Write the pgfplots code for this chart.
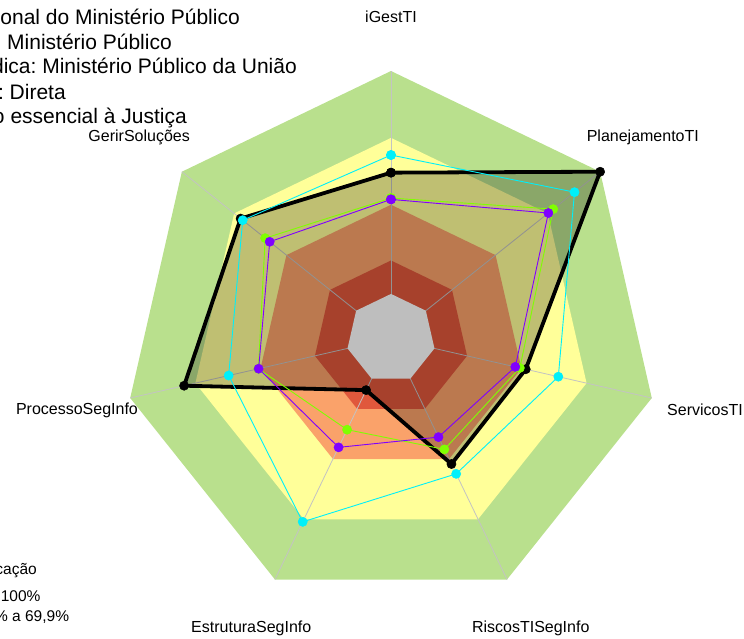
\documentclass[border=0pt]{standalone}
\usepackage{pgfplots}
\pgfplotsset{compat=1.18}
\usepackage{pgfplotstable}
\usepgfplotslibrary{polar}
\usetikzlibrary{calc}
\usepackage{fontspec}
\setmainfont{Liberation Sans}
\frenchspacing

\definecolor{bandgreen}{RGB}{185,224,141}
\definecolor{bandyellow}{RGB}{255,255,153}
\definecolor{bandorange}{RGB}{250,162,106}
\definecolor{bandred}{RGB}{224,88,60}
\definecolor{bandgray}{RGB}{190,190,190}
\definecolor{gridgray}{RGB}{195,195,195}
\definecolor{scyan}{RGB}{0,240,250}
\definecolor{spurple}{RGB}{128,0,255}
\definecolor{sgreen}{RGB}{128,255,0}

% faixas: 0, 15%, 40%, 70%, 100%
\pgfplotstableread{
ang      lA   lB   lC   lD    lE
90       1.0  0.7  0.4  0.15  0.0
38.571   1.0  0.7  0.4  0.15  0.0
-12.857  1.0  0.7  0.4  0.15  0.0
-64.286  1.0  0.7  0.4  0.15  0.0
-115.714 1.0  0.7  0.4  0.15  0.0
-167.143 1.0  0.7  0.4  0.15  0.0
-218.571 1.0  0.7  0.4  0.15  0.0
90       1.0  0.7  0.4  0.15  0.0
}\bands

% iGestTI, PlanejamentoTI, ServicosTI, RiscosTISegInfo,
% EstruturaSegInfo, ProcessoSegInfo, GerirSolucoes (+ fecho)
\pgfplotstableread{
ang      s1     s2     s3     s4
90       0.544  0.623  0.424  0.430
38.571   1.000  0.853  0.703  0.731
-12.857  0.420  0.570  0.372  0.393
-64.286  0.425  0.474  0.291  0.352
-115.714 0.057  0.713  0.342  0.254
-167.143 0.752  0.547  0.409  0.410
-218.571 0.663  0.651  0.496  0.522
90       0.544  0.623  0.424  0.430
}\series

\tikzset{
    lbl/.style={font=\fontsize{16}{19}\selectfont, text=black},
    ttl/.style={font=\fontsize{21}{25}\selectfont, anchor=base east, inner sep=0pt},
    leg/.style={font=\fontsize{15.5}{18}\selectfont, anchor=base east, inner sep=0pt},
    spoke/.style={draw=gridgray, line width=0.8pt},
    thinser/.style={line width=0.9pt, line join=round, mark=*, mark size=4.6pt}
}

\begin{document}
\begin{tikzpicture}
\begin{polaraxis}[
    scale only axis, width=535pt, height=535pt,
    at={(0,0)}, anchor=center,
    xmin=0, xmax=360, ymin=0, ymax=1.2,
    hide axis, clip=false,
    xtick=\empty, ytick=\empty
]
\coordinate (C) at (axis cs:0,0);
% faixas de fundo
\addplot[fill=bandgreen, draw=none] table[x=ang, y expr=\thisrow{lA}+0.2] {\bands};
\addplot[fill=bandyellow, draw=none] table[x=ang, y expr=\thisrow{lB}+0.2] {\bands};
\addplot[fill=bandorange, draw=none] table[x=ang, y expr=\thisrow{lC}+0.2] {\bands};
\addplot[fill=bandred, draw=none] table[x=ang, y expr=\thisrow{lD}+0.2] {\bands};
% eixos radiais
\addplot[spoke] coordinates {(90,0) (90,1.2)};
\addplot[spoke] coordinates {(38.571,0) (38.571,1.2)};
\addplot[spoke] coordinates {(-12.857,0) (-12.857,1.2)};
\addplot[spoke] coordinates {(-64.286,0) (-64.286,1.2)};
\addplot[spoke] coordinates {(-115.714,0) (-115.714,1.2)};
\addplot[spoke] coordinates {(-167.143,0) (-167.143,1.2)};
\addplot[spoke] coordinates {(-218.571,0) (-218.571,1.2)};
% area do orgao
\addplot[fill=black, fill opacity=0.25, draw=none] table[x=ang, y expr=\thisrow{s1}+0.2] {\series};
\addplot[fill=bandgray, draw=none] table[x=ang, y expr=\thisrow{lE}+0.2] {\bands};
% series
\addplot[draw=black, line width=3.8pt, line join=round, mark=*, mark size=4.6pt,
    mark options={fill=black, draw=black, line width=0.5pt}]
    table[x=ang, y expr=\thisrow{s1}+0.2] {\series};
\addplot[thinser, color=sgreen, mark options={fill=sgreen, draw=sgreen, line width=0.5pt}]
    table[x=ang, y expr=\thisrow{s4}+0.2] {\series};
\addplot[thinser, color=scyan, mark options={fill=scyan, draw=scyan, line width=0.5pt}]
    table[x=ang, y expr=\thisrow{s2}+0.2] {\series};
\addplot[thinser, color=spurple, mark options={fill=spurple, draw=spurple, line width=0.5pt}]
    table[x=ang, y expr=\thisrow{s3}+0.2] {\series};
% rotulos
\node[lbl] at (axis cs:90,1.445) {iGestTI};
\node[lbl] at (axis cs:38.571,1.445) {PlanejamentoTI};
\node[lbl] at (axis cs:-12.857,1.445) {ServicosTI};
\node[lbl] at (axis cs:-64.286,1.445) {RiscosTISegInfo};
\node[lbl] at (axis cs:-115.714,1.445) {EstruturaSegInfo};
\node[lbl] at (axis cs:-167.143,1.445) {ProcessoSegInfo};
\node[lbl] at (axis cs:-218.571,1.445) {GerirSoluções};
\end{polaraxis}

% titulo (cortado a esquerda como no original)
\node[ttl] at ($(C)+(-151pt,313.5pt)$) {Organização: Conselho Nacional do Ministério Público};
\node[ttl] at ($(C)+(-219pt,289pt)$) {Segmento: Ministério Público};
\node[ttl] at ($(C)+(-94pt,264.5pt)$) {Natureza jurídica: Ministério Público da União};
\node[ttl] at ($(C)+(-325pt,239pt)$) {Administração: Direta};
\node[ttl] at ($(C)+(-204pt,214.5pt)$) {Poder: Função essencial à Justiça};
% legenda
\node[leg] at ($(C)+(-354pt,-236pt)$) {Faixa de classificação};
\node[leg] at ($(C)+(-350.3pt,-263.2pt)$) {Aprimorado: 70\% a 100\%};
\node[leg] at ($(C)+(-321.7pt,-283.2pt)$) {Intermediário: 40\% a 69,9\%};

\pgfresetboundingbox
\path[use as bounding box] ($(C)+(-391pt,-300.5pt)$) rectangle ($(C)+(353pt,338.5pt)$);
\end{tikzpicture}
\end{document}
